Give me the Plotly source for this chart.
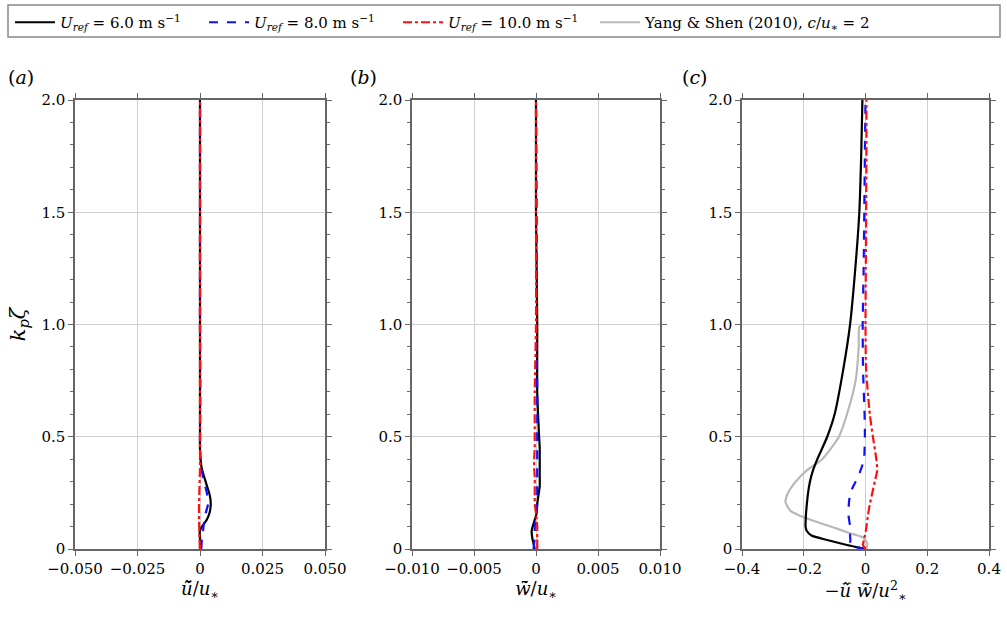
import plotly.graph_objects as go

# ---------------- data ----------------
zeta_ab = [0, 0.05, 0.08, 0.1, 0.13, 0.16, 0.2, 0.24, 0.28, 0.32, 0.36, 0.4, 0.45, 0.5, 0.7, 1.0, 1.5, 2.0]
a_u6 = [0, 0, -0.0001, 0.0008, 0.0027, 0.0038, 0.0043, 0.0039, 0.0028, 0.0017, 0.0007, 0.0002, 0, 0, 0, 0, 0, 0]
a_u8 = [0.0005, 0.0008, 0.0012, 0.0014, 0.0019, 0.0023, 0.0032, 0.0029, 0.0021, 0.0012, 0.0006, 0.0002, 0, 0, 0.0001, 0, 0, 0]
a_u10 = [0, -0.0002, -0.0003, -0.0003, -0.0004, -0.0004, -0.0004, -0.0003, -0.0002, -0.0001, 0, 0, 0, 0, 0, 0, 0, 0]

b_u6 = [-0.0001, -0.0003, -0.00035, -0.00027, -0.0001, 0.00005, 0.0001, 0.0002, 0.0003, 0.0003, 0.0003, 0.0003, 0.0003, 0.00025, 0.0001, 0.0001, 0.0, 0.0]
b_u8 = [-0.0002, -0.0001, -0.0001, -0.0001, -0.00005, 0, 0.0001, 0.0001, 0.0001, 0.0001, 0.0001, 0.0001, 0.0001, 0.0001, 0.0001, 0.00005, 0.00005, 0]
b_u10 = [0.0001, 0.0001, 0.0001, 0.0001, 0.00005, 0.0, -0.0001, -0.0001, -0.0001, -0.0001, -0.00015, -0.00015, -0.0001, -0.0001, -0.0001, 0, 0, 0]

zeta_c = [0, 0.018, 0.04, 0.06, 0.08, 0.1, 0.15, 0.2, 0.25, 0.3, 0.35, 0.4, 0.5, 0.6, 0.8, 1.0, 1.25, 1.5, 1.75, 2.0]
c_u6 = [0, -0.06, -0.124, -0.175, -0.19, -0.194, -0.193, -0.19, -0.186, -0.18, -0.17, -0.156, -0.124, -0.1, -0.072, -0.05, -0.033, -0.02, -0.014, -0.01]
c_u8 = [0, -0.049, -0.049, -0.05, -0.05, -0.05, -0.055, -0.054, -0.049, -0.032, -0.016, -0.005, -0.002, -0.003, -0.008, -0.009, -0.006, -0.004, -0.002, 0]
c_u10 = [0, -0.008, -0.005, -0.002, 0.001, 0.003, 0.008, 0.014, 0.022, 0.03, 0.038, 0.035, 0.024, 0.014, 0.002, 0, 0.001, 0.002, 0.003, 0.003]

zeta_ys = [0, 0.01, 0.025, 0.05, 0.07, 0.1, 0.13, 0.17, 0.21, 0.25, 0.3, 0.35, 0.4, 0.5, 0.6, 0.75, 0.9, 0.99, 1.0]
c_ys = [0.003, 0.004, 0.006, -0.006, -0.049, -0.113, -0.178, -0.243, -0.259, -0.251, -0.226, -0.19, -0.14, -0.086, -0.06, -0.032, -0.022, -0.02, -0.01]

x_ticks_a = [-0.05, -0.025, 0, 0.025, 0.05]
x_text_a = ["−0.050", "−0.025", "0", "0.025", "0.050"]
x_ticks_b = [-0.01, -0.005, 0, 0.005, 0.01]
x_text_b = ["−0.010", "−0.005", "0", "0.005", "0.010"]
x_ticks_c = [-0.4, -0.2, 0, 0.2, 0.4]
x_text_c = ["−0.4", "−0.2", "0", "0.2", "0.4"]
y_ticks = [0, 0.5, 1.0, 1.5, 2.0]
y_text = ["0", "0.5", "1.0", "1.5", "2.0"]

names = ["<i>U<sub>ref</sub></i> = 6.0 m s<sup>−1</sup>",
         "<i>U<sub>ref</sub></i> = 8.0 m s<sup>−1</sup>",
         "<i>U<sub>ref</sub></i> = 10.0 m s<sup>−1</sup>",
         "Yang &amp; Shen (2010), <i>c</i>/<i>u</i><sub>∗</sub> = 2"]

# ---------------- figure ----------------
W, H = 1007, 619
FONT = "DejaVu Serif"
styles = [dict(color="black", width=2.2, dash="solid"),
          dict(color="#1010ff", width=2.2, dash="dash"),
          dict(color="#ff1010", width=2.2, dash="dashdot"),
          dict(color="#b8b8b8", width=2.2, dash="solid")]

fig = go.Figure()
panels = [
    ("x", "y", [a_u6, a_u8, a_u10], zeta_ab),
    ("x2", "y2", [b_u6, b_u8, b_u10], zeta_ab),
    ("x3", "y3", [c_u6, c_u8, c_u10], zeta_c),
]

for pi, (xa, ya, series, zz) in enumerate(panels):
    if pi == 2:
        fig.add_trace(go.Scatter(x=c_ys, y=zeta_ys, mode="lines", line=dict(**styles[3], shape="spline", smoothing=0.6),
                                 name=names[3], showlegend=False, xaxis=xa, yaxis=ya))
    for si, s in enumerate(series):
        fig.add_trace(go.Scatter(x=s, y=zz, mode="lines",
                                 line=dict(**styles[si], shape="spline", smoothing=0.6),
                                 name=names[si], showlegend=(pi == 0),
                                 xaxis=xa, yaxis=ya))
fig.add_trace(go.Scatter(x=[None], y=[None], mode="lines", line=styles[3], name=names[3],
                         showlegend=True, legend="legend2", xaxis="x3", yaxis="y3"))

def px_dom(a, b, total):
    return [a / total, b / total]

ydom = [(H - 549) / H, (H - 100) / H]
xdoms = [px_dom(75, 325, W), px_dom(412, 660, W), px_dom(742, 989, W)]
xranges = [[-0.05, 0.05], [-0.01, 0.01], [-0.4, 0.4]]
xticks = [(x_ticks_a, x_text_a), (x_ticks_b, x_text_b), (x_ticks_c, x_text_c)]
xtitles = ["<i>ũ̄</i>/<i>u</i><sub>∗</sub>",
           "<i>w̃̄</i>/<i>u</i><sub>∗</sub>",
           "−<i>ũ̅ w̃̅</i>/<i>u</i><sup>2</sup><sub>∗</sub>"]

axis_common = dict(showline=True, linecolor="#666666", linewidth=1.5, mirror="ticks",
                   ticks="outside", ticklen=5, tickcolor="#666666", tickwidth=1.2,
                   showgrid=True, gridcolor="#d0d0d0", gridwidth=1, zeroline=False,
                   automargin=False,
                   tickfont=dict(family=FONT, size=15, color="black"))
lay = {}
for i in range(3):
    sfx = "" if i == 0 else str(i + 1)
    lay["xaxis" + sfx] = dict(axis_common, domain=xdoms[i], range=xranges[i],
                              tickmode="array", tickvals=xticks[i][0], ticktext=xticks[i][1],
                              anchor="y" + sfx,
                              title=dict(text=xtitles[i], font=dict(family=FONT, size=18), standoff=4))
    lay["yaxis" + sfx] = dict(axis_common, domain=ydom, range=[0, 2.0], anchor="x" + sfx,
                              tickmode="array", tickvals=y_ticks, ticktext=y_text,
                              minor=dict(dtick=0.1, tick0=0, ticks="outside", ticklen=3,
                                         tickcolor="#666666", showgrid=False))
lay["yaxis"]["title"] = dict(text="<i>k<sub>p</sub>ζ</i>", font=dict(family=FONT, size=21), standoff=10)

fig.update_layout(
    width=W, height=H, margin=dict(l=0, r=0, t=0, b=0, autoexpand=False),
    plot_bgcolor="white", paper_bgcolor="white",
    font=dict(family=FONT, size=15, color="black"),
    legend=dict(orientation="h", x=10 / W, y=1 - 6 / H, xanchor="left", yanchor="top",
                entrywidth=139, entrywidthmode="pixels", itemwidth=40,
                font=dict(family=FONT, size=15), bgcolor="rgba(0,0,0,0)",
                traceorder="normal"),
    legend2=dict(orientation="h", x=595 / W, y=1 - 6 / H, xanchor="left", yanchor="top",
                 itemwidth=40, font=dict(family=FONT, size=15), bgcolor="rgba(0,0,0,0)"),
    shapes=[dict(type="rect", xref="paper", yref="paper", x0=8 / W, x1=1000 / W,
                 y0=1 - 37 / H, y1=1 - 5 / H, line=dict(color="#888888", width=1.5))],
    annotations=[dict(text="(<i>%s</i>)" % c, xref="paper", yref="paper", x=xp / W, y=1 - 77 / H,
                      xanchor="left", yanchor="middle", showarrow=False,
                      font=dict(family=FONT, size=19))
                 for c, xp in [("a", 6), ("b", 348), ("c", 680)]],
    **lay,
)

fig.write_html("out.html")
